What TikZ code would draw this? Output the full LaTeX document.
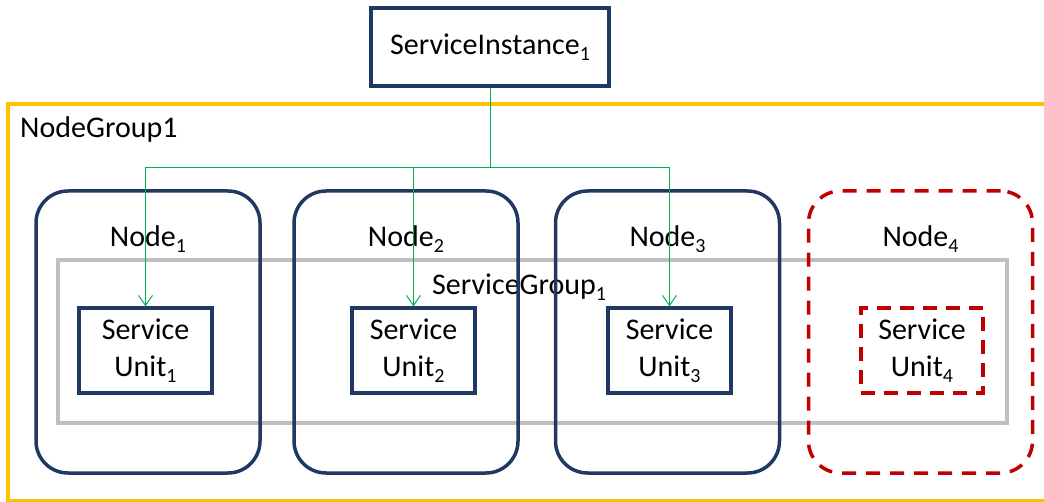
\documentclass[tikz,border=0pt]{standalone}
\usepackage{fontspec}
\setmainfont{Carlito}
\usetikzlibrary{arrows.meta}
\definecolor{navy}{RGB}{31,56,100}
\definecolor{amber}{RGB}{255,192,0}
\definecolor{wire}{RGB}{0,176,80}
\definecolor{silver}{RGB}{191,191,191}
\definecolor{crimson}{RGB}{192,0,0}
\newcommand\subidx[1]{\raisebox{-6pt}{\fontsize{20}{20}\selectfont #1}}
\begin{document}
\begin{tikzpicture}[x=1pt, y=-1pt,
    every node/.style={font=\fontsize{30}{37}\selectfont, inner sep=0pt},
    hostbox/.style={draw=navy, line width=3.5pt, rounded corners=32pt, minimum width=224pt, minimum height=282pt},
    downbox/.style={draw=crimson, line width=3.5pt, dash pattern=on 14pt off 10pt, rounded corners=32pt, minimum width=224pt, minimum height=282pt},
    unitbox/.style={draw=navy, line width=3.5pt, minimum width=123pt, minimum height=85pt, align=center},
    downunit/.style={draw=crimson, line width=3.5pt, dash pattern=on 14pt off 9pt, minimum width=122pt, minimum height=85pt, align=center},
    link/.style={draw=wire, line width=1pt},
    linkarrow/.style={link, -{Straight Barb[length=10pt, width=14pt, line width=1pt]}}]
  \clip (0,0) rectangle (1044,502);
  \draw[amber, line width=3.5pt] (8,104) rectangle (1060,501); % node group
  \node[anchor=base west] (ngt) at (20,138) {NodeGroup1};
  \node[draw=navy, line width=3.5pt, minimum width=238pt, minimum height=78pt] (si) at (490,47) {ServiceInstance\subidx{1}};
  \node[draw=silver, line width=3.5pt, minimum width=949pt, minimum height=163pt] (sg) at (532.5,341.5) {}; % service group
  \node[anchor=base west] (sgt) at (432,295) {ServiceGroup\subidx{1}};
  \node[hostbox] (n1) at (148,332) {};
  \node[hostbox] (n2) at (406,332) {};
  \node[hostbox] (n3) at (667.5,332) {};
  \node[downbox] (n4) at (920.5,332) {};
  \foreach \i in {1,...,4}
    \node[anchor=base] (n\i t) at ([yshift=-57pt]n\i.north) {Node\subidx{\i}};
  \node[unitbox, minimum width=133pt] (su1) at (145.5,350.5) {Service\\Unit\subidx{1}};
  \node[unitbox] (su2) at (413.5,350.5) {Service\\Unit\subidx{2}};
  \node[unitbox] (su3) at (669.5,350.5) {Service\\Unit\subidx{3}};
  \node[downunit] (su4) at (922,350.5) {Service\\Unit\subidx{4}};
  % assignment of the instance to the units
  \coordinate (bus) at (si.south |- 0,168);
  \draw[link] (si.south) -- (bus);
  \foreach \u in {su1,su2,su3}
    \draw[linkarrow] (bus) -| (\u.north);
\end{tikzpicture}
\end{document}
